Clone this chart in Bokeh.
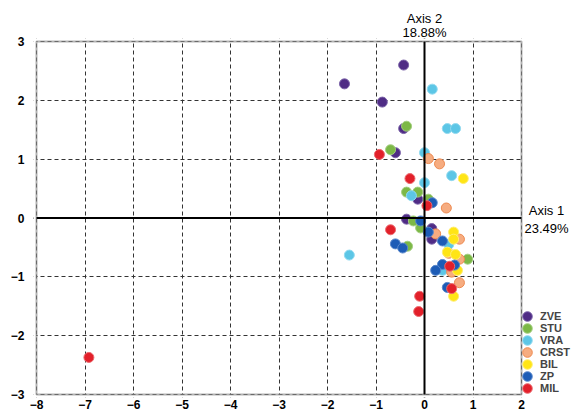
from bokeh.plotting import figure
from bokeh.models import (FixedTicker, Span, Legend, LegendItem, Range1d, Label,
                          BoxAnnotation)
from bokeh.embed import file_html
from bokeh.resources import INLINE

x_ticks = [-8, -7, -6, -5, -4, -3, -2, -1, 0, 1, 2]
y_ticks = [-3, -2, -1, 0, 1, 2, 3]

groups = ["ZVE", "STU", "VRA", "CRST", "BIL", "ZP", "MIL"]

zve_x = [-1.65, -0.43, -0.87, -0.43, -0.6, -0.14, -0.37, 0.15, 0.15]
zve_y = [2.28, 2.6, 1.97, 1.52, 1.11, 0.32, -0.02, -0.18, -0.36]
stu_x = [-0.37, -0.7, -0.37, -0.14, 0.08, -0.23, -0.08, -0.35, 0.89]
stu_y = [1.56, 1.16, 0.44, 0.44, 0.32, -0.05, -0.17, -0.48, -0.7]
vra_x = [0.16, 0.47, 0.64, 0.0, 0.56, 0.0, -0.27, -1.55, 0.5, 0.37]
vra_y = [2.19, 1.52, 1.52, 1.11, 0.72, 0.6, 0.38, -0.63, -0.45, -0.89]
crst_x = [0.08, 0.31, 0.45, 0.23, 0.72, 0.5, 0.72, 0.56, 0.72]
crst_y = [1.01, 0.92, 0.17, -0.27, -0.36, -0.6, -0.7, -0.92, -1.1]
bil_x = [0.8, 0.6, 0.6, 0.47, 0.64, 0.68, 0.6]
bil_y = [0.67, -0.24, -0.36, -0.58, -0.62, -0.89, -1.33]
zp_x = [0.16, -0.08, 0.08, 0.37, -0.6, -0.45, 0.37, 0.23, 0.62, 0.47]
zp_y = [0.26, -0.05, -0.24, -0.39, -0.44, -0.51, -0.79, -0.89, -0.8, -1.18]
mil_x = [-6.92, -0.93, -0.3, 0.05, -0.7, 0.52, 0.56, -0.1, -0.12]
mil_y = [-2.37, 1.08, 0.67, 0.21, -0.2, -0.82, -1.2, -1.33, -1.59]

xs = [zve_x, stu_x, vra_x, crst_x, bil_x, zp_x, mil_x]
ys = [zve_y, stu_y, vra_y, crst_y, bil_y, zp_y, mil_y]
fills = ["#4F2C85", "#7CB846", "#5CC6E6", "#F6AC80", "#FFE516", "#1D5CB6", "#E2202A"]
lines = ["#7A62A8", "#A3CE80", "#92DAF0", "#EE8A50", "#FFEE70", "#5A88CC", "#EC6A6F"]

FONT = "Liberation Sans"

# plot box spans x -8..2 and y -3..3; frame extends a little past it so the
# box border and the right-hand annotations are not clipped
p = figure(width=576, height=413,
           x_range=Range1d(-8.062, 3.134), y_range=Range1d(-3.051, 3.051),
           output_backend="svg", toolbar_location=None,
           min_border_left=33, min_border_right=0, min_border_top=38, min_border_bottom=16)

p.outline_line_color = None

for ax in (p.xaxis[0], p.yaxis[0]):
    ax.axis_line_color = None
    ax.major_tick_line_color = None
    ax.minor_tick_line_color = None
    ax.major_tick_out = 0
    ax.major_tick_in = 0
    ax.major_label_text_font = FONT
    ax.major_label_text_font_style = "bold"
    ax.major_label_text_font_size = "12px"
    ax.major_label_text_color = "black"
p.xaxis[0].ticker = FixedTicker(ticks=x_ticks)
p.yaxis[0].ticker = FixedTicker(ticks=y_ticks)
p.xaxis[0].major_label_standoff = 2
p.yaxis[0].major_label_standoff = 9

p.xgrid[0].ticker = FixedTicker(ticks=x_ticks)
p.ygrid[0].ticker = FixedTicker(ticks=y_ticks)
for g in (p.xgrid[0], p.ygrid[0]):
    g.grid_line_color = "#333333"
    g.grid_line_dash = "4 3"
    g.grid_line_width = 1
    g.grid_line_alpha = 1

p.add_layout(Span(location=0, dimension="height", line_color="black", line_width=2))
p.add_layout(Span(location=0, dimension="width", line_color="black", line_width=2))

items = []
for name, gx, gy, fc, lc in zip(groups, xs, ys, fills, lines):
    r = p.ellipse(gx, gy, width=10, height=10, width_units="screen", height_units="screen",
                  fill_color=fc, line_color=lc, line_width=1)
    items.append(LegendItem(label=name, renderers=[r]))

# white masks outside the plot box, then the box border
mask = dict(fill_color="white", fill_alpha=1, line_color=None)
p.add_layout(BoxAnnotation(left=x_ticks[-1], **mask))
p.add_layout(BoxAnnotation(right=x_ticks[0], **mask))
p.add_layout(BoxAnnotation(bottom=y_ticks[-1], **mask))
p.add_layout(BoxAnnotation(top=y_ticks[0], **mask))
p.add_layout(BoxAnnotation(left=x_ticks[0], right=x_ticks[-1],
                           bottom=y_ticks[0], top=y_ticks[-1],
                           fill_alpha=0, line_color="black", line_width=2))

legend = Legend(items=items, location=(488, 3), orientation="vertical",
                background_fill_alpha=0, border_line_color=None,
                glyph_width=12, glyph_height=12, label_height=12, spacing=0,
                padding=0, margin=0, label_standoff=7,
                label_text_font=FONT, label_text_font_style="bold",
                label_text_font_size="11px")
p.add_layout(legend)

lbl_style = dict(text_font=FONT, text_font_size="13px", text_color="black",
                 text_align="center", text_baseline="middle")
p.add_layout(Label(x=0, y=3, y_offset=23, text="Axis 2", **lbl_style), "above")
p.add_layout(Label(x=0, y=3, y_offset=9, text="18.88%", **lbl_style), "above")
p.add_layout(Label(x=2, y=0, x_offset=25, y_offset=8, text="Axis 1", **lbl_style))
p.add_layout(Label(x=2, y=0, x_offset=25, y_offset=-10, text="23.49%", **lbl_style))

open("out.html", "w").write(file_html(p, INLINE))
